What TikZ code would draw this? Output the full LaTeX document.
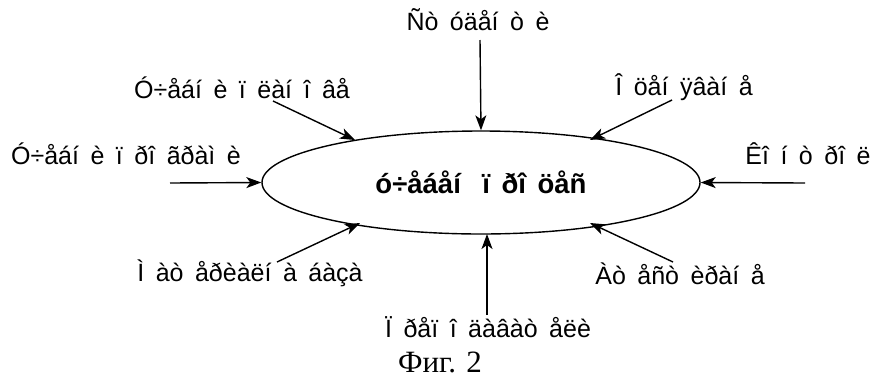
\documentclass[tikz,border=0pt]{standalone}
\usepackage{fontspec}
\setmainfont{Liberation Sans}
\newfontfamily\figfont{Liberation Serif}
\usetikzlibrary{arrows.meta,shapes.geometric}
\newcommand\widesp[1]{\spaceskip=#1em\relax}
\begin{document}
\begin{tikzpicture}[x=1pt,y=-1pt,
  lbl/.style={inner sep=0pt,font=\fontsize{25}{27}\selectfont,execute at begin node=\widesp{0.46}},
  arr/.style={line width=1.4pt,-{Stealth[length=15pt,width=11pt,inset=4pt]}}]
\useasboundingbox (0,0) rectangle (872,381);
\node[draw,line width=1.4pt,ellipse,minimum width=438pt,minimum height=103pt,inner sep=0pt,font=\bfseries\fontsize{27.5}{29}\selectfont,execute at begin node=\widesp{0.42}] (e) at (481,182.5) {ó÷åáåí\hspace{10pt} ï ðî öåñ};
\node[lbl] (t1) at (478,20) {Ñò óäåí ò è};
\node[lbl] (t2) at (242,88) {Ó÷åáí è ï ëàí î âå};
\node[lbl] (t3) at (684,87) {Î öåí ÿâàí å};
\node[lbl] (t4) at (126,154) {Ó÷åáí è ï ðî ãðàì è};
\node[lbl] (t5) at (808,154) {Êî í ò ðî ë};
\node[lbl] (t6) at (250,273) {Ì àò åðèàëí à áàçà};
\node[lbl] (t7) at (680,274) {Àò åñò èðàí å};
\node[lbl] (t8) at (488,327) {Ï ðåï î äàâàò åëè};
\node[inner sep=0pt,font=\figfont\fontsize{31}{33}\selectfont] (fig) at (440,362) {Фиг. 2};
\coordinate (s1) at (480,40);
\coordinate (s2) at (273,101);
\coordinate (s3) at (672,100);
\coordinate (s4) at (170,183);
\coordinate (s5) at (805,183);
\coordinate (s6) at (277,262);
\coordinate (s7) at (673,262);
\coordinate (s8) at (487,315);
\draw[arr] (s1) -- (e.north);
\draw[arr] (s2) -- (355,140);
\draw[arr] (s3) -- (590,140);
\draw[arr] (s4) -- (e.west);
\draw[arr] (s5) -- (e.east);
\draw[arr] (s6) -- (360,223);
\draw[arr] (s7) -- (590,223);
\draw[arr] (s8) -- (487,234);
\end{tikzpicture}
\end{document}
